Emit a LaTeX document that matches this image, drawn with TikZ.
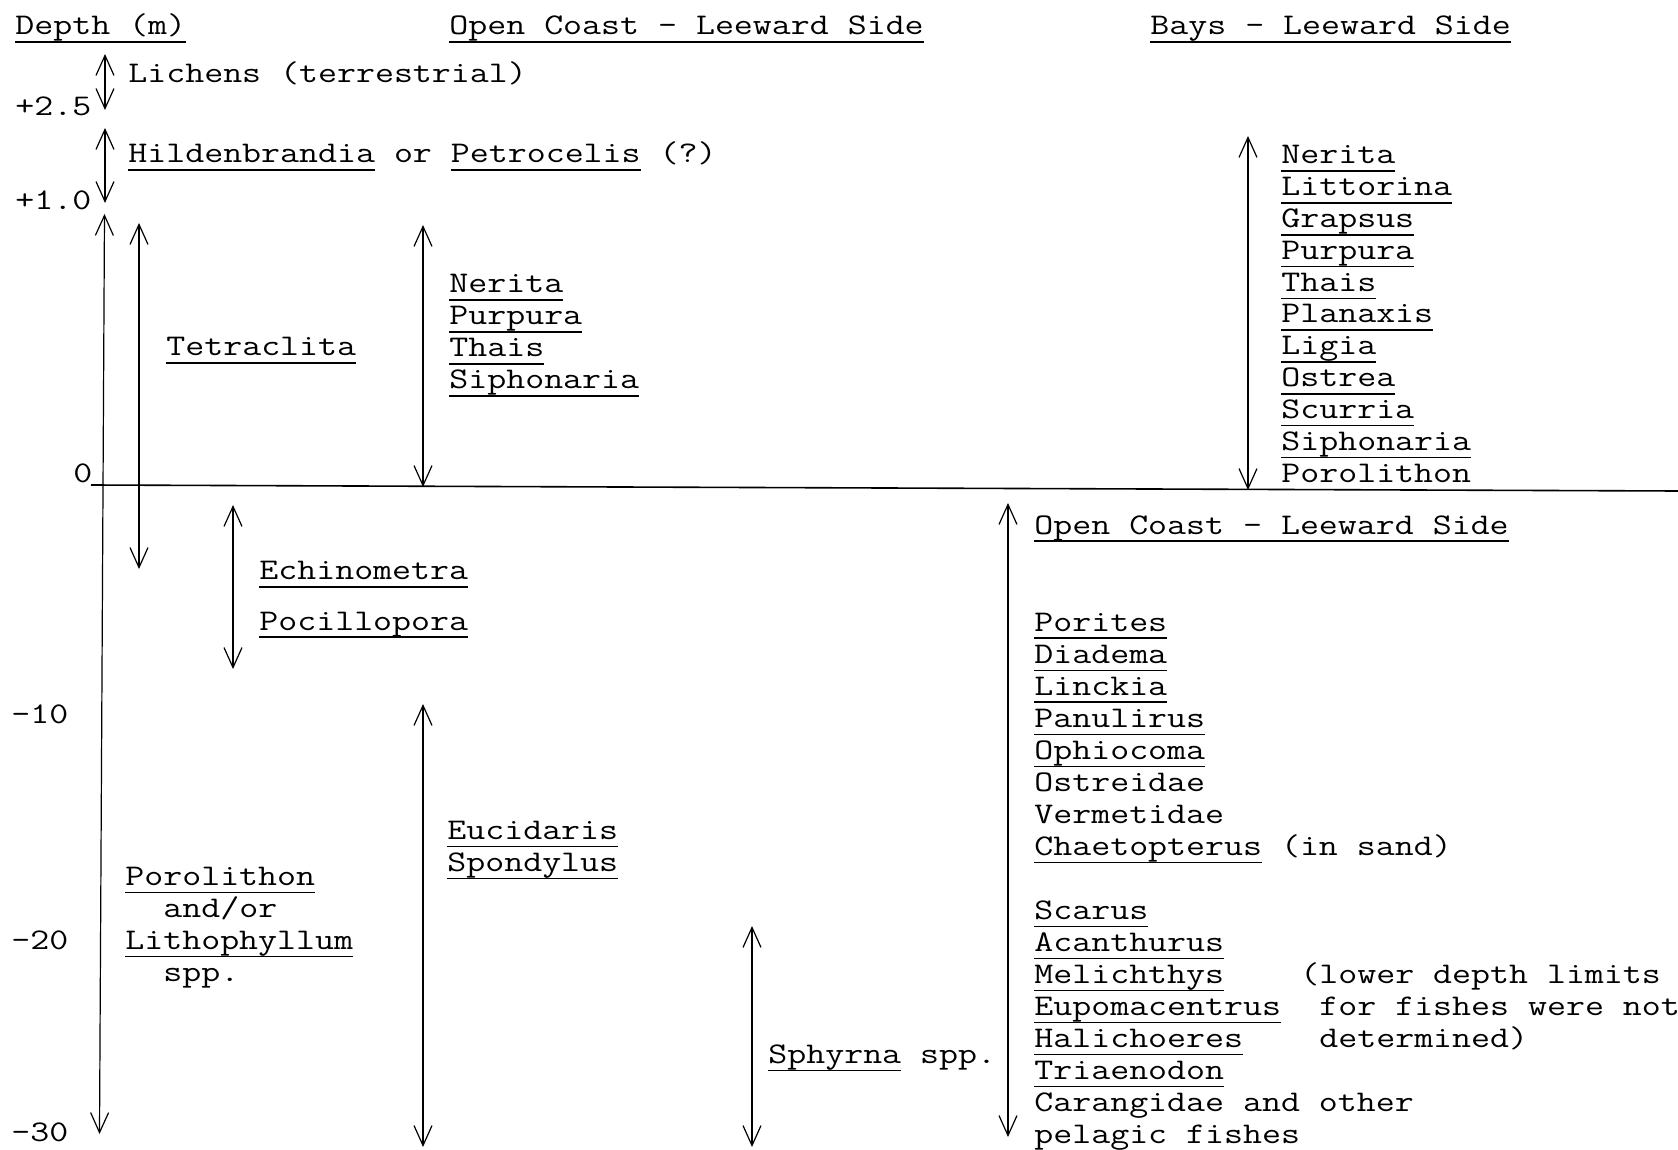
\documentclass[tikz,border=0pt]{standalone}
\usepackage{fontspec}
\newfontfamily\tw[FakeStretch=1.228]{Latin Modern Mono}
\usetikzlibrary{arrows.meta}
\newcommand\ulx[1]{\setbox0\hbox{#1}\rlap{\rule[-4pt]{\wd0}{0.75pt}}\box0\relax}
\tikzset{
  lbl/.style={anchor=base west, inner sep=0pt, font=\tw\fontsize{15}{16}\selectfont},
  rng/.style={line width=0.6pt, {Straight Barb[length=10pt,width=9pt]}-{Straight Barb[length=10pt,width=9pt]}},
  zline/.style={line width=0.8pt}
}
\begin{document}
\begin{tikzpicture}[x=0.5pt,y=-0.5pt]
\useasboundingbox (0,0) rectangle (1678,1150);
% headers
\node[lbl] (hdepth) at (15,35) {\ulx{Depth (m)}};
\node[lbl] (hopen) at (449,35) {\ulx{Open Coast - Leeward Side}};
\node[lbl] (hbays) at (1150,35) {\ulx{Bays - Leeward Side}};
% depth labels
\node[lbl] (d25) at (15,116) {+2.5};
\node[lbl] (d10) at (15,210) {+1.0};
\node[lbl] (d0) at (73,483) {0};
\node[lbl] (dm10) at (11,723) {-10};
\node[lbl] (dm20) at (11,949) {-20};
\node[lbl] (dm30) at (11,1141) {-30};
% zero line
\coordinate (z1) at (91,485);
\coordinate (z2) at (1678,491);
\draw[zline] (z1) -- (z2);
% arrows
\coordinate (a1t) at (105,54);   \coordinate (a1b) at (105,110);
\coordinate (a2t) at (105,128);  \coordinate (a2b) at (105,203);
\coordinate (a3t) at (104.5,214); \coordinate (a3b) at (99.5,1134);
\coordinate (a4t) at (139,223);  \coordinate (a4b) at (139,569);
\coordinate (a5t) at (423,225);  \coordinate (a5b) at (423,487);
\coordinate (a6t) at (233,505);  \coordinate (a6b) at (233,669);
\coordinate (a7t) at (423,704);  \coordinate (a7b) at (423,1147);
\coordinate (a8t) at (752,926);  \coordinate (a8b) at (752,1147);
\coordinate (a9t) at (1248,136); \coordinate (a9b) at (1248,490);
\coordinate (a10t) at (1008,503); \coordinate (a10b) at (1008,1137);
\foreach \i in {1,...,10} {\draw[rng] (a\i t) -- (a\i b);}
% upper zone
\node[lbl] (lich) at (128,83) {Lichens (terrestrial)};
\node[lbl] (hild) at (128,163) {\ulx{Hildenbrandia} or \ulx{Petrocelis} (?)};
\node[lbl] (tetra) at (166,356) {\ulx{Tetraclita}};
\node[lbl] (n1) at (449,293) {\ulx{Nerita}};
\node[lbl] (n2) at (449,325) {\ulx{Purpura}};
\node[lbl] (n3) at (449,357) {\ulx{Thais}};
\node[lbl] (n4) at (449,389) {\ulx{Siphonaria}};
% bays list
\foreach \t [count=\k from 0] in {Nerita,Littorina,Grapsus,Purpura,Thais,Planaxis,Ligia,Ostrea,Scurria,Siphonaria}
  {\node[lbl] (b\k) at (1281,{164+31.8*\k}) {\ulx{\t}};}
\node[lbl] (b10) at (1281,482) {Porolithon};
% lower left
\node[lbl] (echi) at (259,580) {\ulx{Echinometra}};
\node[lbl] (poci) at (259,630) {\ulx{Pocillopora}};
\node[lbl] (euci) at (447,839) {\ulx{Eucidaris}};
\node[lbl] (spon) at (447,871) {\ulx{Spondylus}};
\node[lbl] (poro) at (125,885) {\ulx{Porolithon}};
\node[lbl] (andor) at (163,917) {and/or};
\node[lbl] (litho) at (125,949) {\ulx{Lithophyllum}};
\node[lbl] (spp) at (163,981) {spp.};
\node[lbl] (sphy) at (768,1063) {\ulx{Sphyrna} spp.};
% lower right
\node[lbl] (open2) at (1034,534) {\ulx{Open Coast - Leeward Side}};
\foreach \t [count=\k from 0] in {Porites,Diadema,Linckia,Panulirus,Ophiocoma}
  {\node[lbl] (p\k) at (1034,{631+32*\k}) {\ulx{\t}};}
\node[lbl] (p5) at (1034,791) {Ostreidae};
\node[lbl] (p6) at (1034,823) {Vermetidae};
\node[lbl] (p7) at (1034,855) {\ulx{Chaetopterus} (in sand)};
\foreach \t [count=\k from 0] in {Scarus,Acanthurus,Melichthys,Eupomacentrus,Halichoeres,Triaenodon}
  {\node[lbl] (f\k) at (1034,{919+32*\k}) {\ulx{\t}};}
\node[lbl] (f6) at (1034,1111) {Carangidae and other};
\node[lbl] (f7) at (1034,1143) {pelagic fishes};
\node[lbl] (note1) at (1300,983) {(lower depth limits};
\node[lbl] (note2) at (1319,1015) {for fishes were not};
\node[lbl] (note3) at (1319,1047) {determined)};
\end{tikzpicture}
\end{document}
